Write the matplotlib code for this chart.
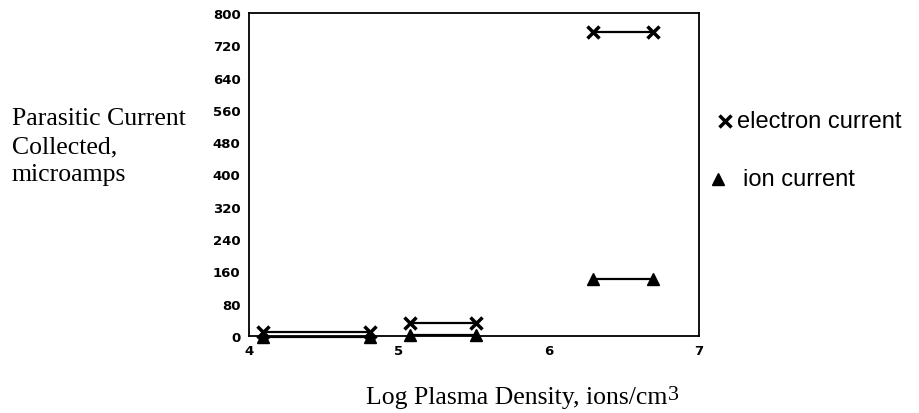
import matplotlib
matplotlib.use("Agg")
import matplotlib.pyplot as plt
from matplotlib.lines import Line2D

# Data
electron_x = [[4.09, 4.81], [5.07, 5.51], [6.29, 6.69]]
electron_y = [[10, 10], [32, 32], [752, 752]]
ion_x = [[4.09, 4.81], [5.07, 5.51], [6.29, 6.69]]
ion_y = [[-2, -2], [3, 3], [140, 140]]
y_ticks = [0, 80, 160, 240, 320, 400, 480, 560, 640, 720, 800]
x_ticks = [4, 5, 6, 7]
legend_labels = ["electron current", "ion current"]

W, H = 919, 414
fig = plt.figure(figsize=(W/100, H/100), dpi=100)
ax = fig.add_axes([249/W, 1-337/H, (699-249)/W, (337-14)/H])

for xs, ys in zip(electron_x, electron_y):
    ax.plot(xs, ys, color="black", lw=1.6, marker="x", ms=9, mew=2.5, clip_on=False)
for xs, ys in zip(ion_x, ion_y):
    ax.plot(xs, ys, color="black", lw=1.6, marker="^", ms=8, clip_on=False)

ax.set_xlim(4, 7)
ax.set_ylim(0, 800)
ax.set_xticks(x_ticks)
ax.set_yticks(y_ticks)
ax.tick_params(direction="in", length=0, labelsize=9.5, pad=6)
for lab in ax.get_xticklabels() + ax.get_yticklabels():
    lab.set_fontweight("bold")
    lab.set_family("DejaVu Sans")
for s in ax.spines.values():
    s.set_linewidth(1.3)

serif = "Liberation Serif"
fs = 18.5
fig.text(12/W, 1-147/H, "Parasitic Current\nCollected,\nmicroamps", family=serif,
         fontsize=fs, ha="left", va="center", linespacing=1.33)
t = fig.text(366/W, 1-398/H, "Log Plasma Density, ions/cm", family=serif, fontsize=fs,
             ha="left", va="center")
ax.annotate("3", xy=(1, 0.5), xycoords=t, xytext=(0.5, 2), textcoords="offset points",
            family=serif, fontsize=fs * 0.85, ha="left", va="center")

# legend (drawn manually)
sans = "Liberation Sans"
lfs = 17
fig.add_artist(Line2D([725/W], [1-122/H], transform=fig.transFigure, color="black",
                      ls="none", marker="x", ms=9, mew=2.5))
fig.text(737/W, 1-122/H, legend_labels[0], family=sans, fontsize=lfs, ha="left", va="center")
fig.add_artist(Line2D([718/W], [1-180/H], transform=fig.transFigure, color="black",
                      ls="none", marker="^", ms=8))
fig.text(743/W, 1-180/H, legend_labels[1], family=sans, fontsize=lfs, ha="left", va="center")

fig.savefig("out.png", dpi=100)
